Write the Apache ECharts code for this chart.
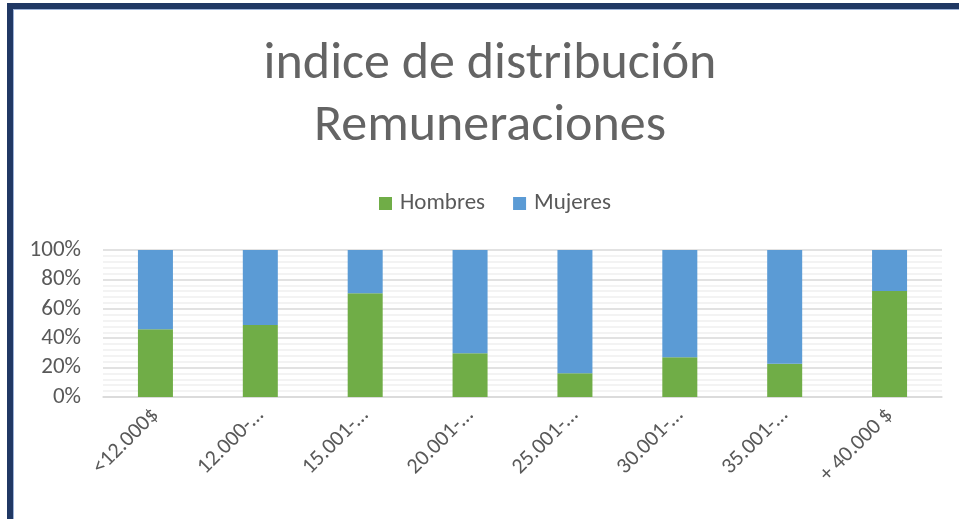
<!DOCTYPE html>
<html>
<head>
<meta charset="utf-8">
<script src="https://cdn.jsdelivr.net/npm/echarts@6/dist/echarts.min.js"></script>
<style>
  html, body { margin: 0; padding: 0; background: #fff; }
  #chart { width: 959px; height: 519px; }
  .frame {
    position: absolute; left: 7px; top: 3px; width: 1000px; height: 600px;
    border-top: 6px solid #203864; border-left: 6px solid #203864;
    box-shadow: inset 1px 1px 0 #9db3d9; pointer-events: none;
  }
</style>
</head>
<body>
<div id="chart"></div>
<div class="frame"></div>
<script>
  // categorias de remuneracion (como se ven, recortadas)
  var categorias = ['<12.000$', '12.000-…', '15.001-…', '20.001-…', '25.001-…', '30.001-…', '35.001-…', '+ 40.000 $'];
  var hombres = [46.1, 49.0, 70.5, 29.7, 16.1, 27.0, 22.7, 72.1];
  var mujeres = [53.9, 51.0, 29.5, 70.3, 83.9, 73.0, 77.3, 27.9];
  var yTicks = [0, 20, 40, 60, 80, 100];

  var font = "Carlito, Lato, 'Open Sans', sans-serif";
  var chart = echarts.init(document.getElementById('chart'));

  chart.setOption({
    animation: false,
    graphic: [{
      type: 'text',
      x: 490, y: 34,
      style: {
        text: 'indice de distribución\nRemuneraciones',
        fontFamily: font, fontWeight: 300, fontSize: 52, lineHeight: 62,
        fill: '#646464', align: 'center'
      }
    }],
    legend: {
      left: 374, top: 187,
      itemWidth: 13, itemHeight: 13, itemGap: 28,
      icon: 'rect',
      textStyle: { fontFamily: font, fontSize: 23, color: '#595959', padding: [0, 0, 0, 3] },
      data: ['Hombres', 'Mujeres']
    },
    grid: { left: 103, right: 17, top: 250, bottom: 122 },
    xAxis: {
      type: 'category',
      data: categorias,
      axisLine: { lineStyle: { color: '#d9d9d9', width: 1.5 } },
      axisTick: { show: false },
      axisLabel: {
        rotate: 45, interval: 0, margin: 15,
        fontFamily: font, fontSize: 22, color: '#595959'
      }
    },
    yAxis: {
      type: 'value',
      min: 0, max: 100, interval: 20,
      axisLine: { show: false },
      axisTick: { show: false },
      axisLabel: {
        fontFamily: font, fontSize: 23, color: '#595959', margin: 22,
        formatter: function (v) { return yTicks.indexOf(v) >= 0 ? v + '%' : ''; }
      },
      splitLine: { lineStyle: { color: '#d9d9d9', width: 1.5 } },
      minorTick: { show: false, splitNumber: 5 },
      minorSplitLine: { show: true, lineStyle: { color: '#f0f0f0', width: 1.5 } }
    },
    series: [{
      name: 'Hombres',
      type: 'bar',
      stack: 'total',
      barWidth: 35,
      itemStyle: { color: '#70ad47' },
      data: hombres
    }, {
      name: 'Mujeres',
      type: 'bar',
      stack: 'total',
      barWidth: 35,
      itemStyle: { color: '#5b9bd5' },
      data: mujeres
    }]
  });
</script>
</body>
</html>
